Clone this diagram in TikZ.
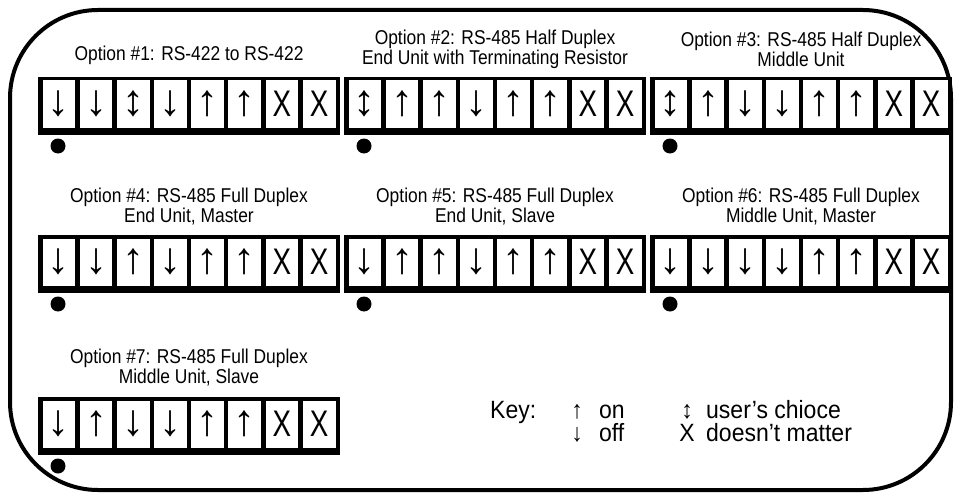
\documentclass[tikz,border=0pt]{standalone}
\usepackage{fontspec}
\setmainfont{Liberation Sans}
\newfontfamily\titlefont[FakeStretch=0.87]{Liberation Sans}
\newfontfamily\cellfont[FakeStretch=0.75]{Liberation Sans}
\newfontfamily\keyfont[FakeStretch=0.92]{Liberation Sans}
\newfontfamily\arrfont{Liberation Sans}
\newcommand\UPg{{\arrfont\fontsize{44}{44}\selectfont ↑}}
\newcommand\DNg{{\arrfont\fontsize{44}{44}\selectfont ↓}}
\newcommand\UDg{{\arrfont\fontsize{44}{44}\selectfont\bfseries ↕}}
\newcommand\Xg{{\cellfont\fontsize{37}{37}\selectfont X}}
\tikzset{
  blockbox/.style={rectangle, fill=black, draw=none, minimum width=302pt, minimum height=58pt, inner sep=0pt, anchor=north west},
  cellbox/.style={rectangle, fill=white, draw=none, minimum width=32.69pt, minimum height=47.5pt, inner sep=0pt},
  dotmark/.style={circle, fill=black, draw=none, minimum size=15pt, inner sep=0pt},
  titletext/.style={align=center, inner sep=0pt, font=\titlefont\fontsize{20}{20}\selectfont},
  keytext/.style={inner sep=0pt, font=\keyfont\fontsize{25}{25}\selectfont},
  keyarr/.style={inner sep=0pt, anchor=base, font=\keyfont\fontsize{25}{25}\selectfont},
  frame/.style={draw=black, line width=4pt, rounded corners=88pt}
}
\newcommand\mkblock[4]{%
  \node[blockbox] (#1) at (#2,#3) {};
  \foreach \g [count=\i from 0] in {#4} {
    \node[cellbox] (#1c\i) at ({#2+4.5+16.345+\i*37.19},{#3+3.5+23.75}) {\g};
  }
  \node[dotmark] (#1dot) at ({#2+20},{#3+69}) {};
}
\begin{document}
\begin{tikzpicture}[x=1pt,y=-1pt]
\useasboundingbox (0,0) rectangle (954,495);
\draw[frame] (10,10) rectangle (951,490);
% row 1
\node[titletext] (t1) at (189,55) {Option \#1: RS-422 to RS-422};
\node[titletext] (t2) at (495,49) {Option \#2: RS-485 Half Duplex\\End Unit with Terminating Resistor};
\node[titletext] (t3) at (801,49) {Option \#3: RS-485 Half Duplex\\Middle Unit};
\mkblock{b1}{38}{77}{\DNg,\DNg,\UDg,\DNg,\UPg,\UPg,\Xg,\Xg}
\mkblock{b2}{344}{77}{\UDg,\UPg,\UPg,\DNg,\UPg,\UPg,\Xg,\Xg}
\mkblock{b3}{650}{77}{\UDg,\UPg,\DNg,\DNg,\UPg,\UPg,\Xg,\Xg}
% row 2
\node[titletext] (t4) at (189,207) {Option \#4: RS-485 Full Duplex\\End Unit, Master};
\node[titletext] (t5) at (495,207) {Option \#5: RS-485 Full Duplex\\End Unit, Slave};
\node[titletext] (t6) at (801,207) {Option \#6: RS-485 Full Duplex\\Middle Unit, Master};
\mkblock{b4}{38}{235}{\DNg,\DNg,\UPg,\DNg,\UPg,\UPg,\Xg,\Xg}
\mkblock{b5}{344}{235}{\DNg,\UPg,\UPg,\DNg,\UPg,\UPg,\Xg,\Xg}
\mkblock{b6}{650}{235}{\DNg,\DNg,\DNg,\DNg,\UPg,\UPg,\Xg,\Xg}
% row 3
\node[titletext] (t7) at (189,368) {Option \#7: RS-485 Full Duplex\\Middle Unit, Slave};
\mkblock{b7}{38}{397}{\DNg,\UPg,\DNg,\DNg,\UPg,\UPg,\Xg,\Xg}
% key
\node[keytext, anchor=base west] (key) at (490,418) {Key:};
\node[keyarr] (kup) at (577,418) {↑};
\node[keytext, anchor=base west] (kon) at (599,418) {on};
\node[keyarr] (kdn) at (577,441) {↓};
\node[keytext, anchor=base west] (koff) at (599,441) {off};
\node[keyarr, font=\keyfont\bfseries\fontsize{25}{25}\selectfont] (kud) at (687,418) {↕};
\node[keytext, anchor=base west] (kchoice) at (706,418) {user’s chioce};
\node[keytext, anchor=base] (kx) at (687,441) {X};
\node[keytext, anchor=base west] (kmatter) at (706,441) {doesn’t matter};
\end{tikzpicture}
\end{document}
